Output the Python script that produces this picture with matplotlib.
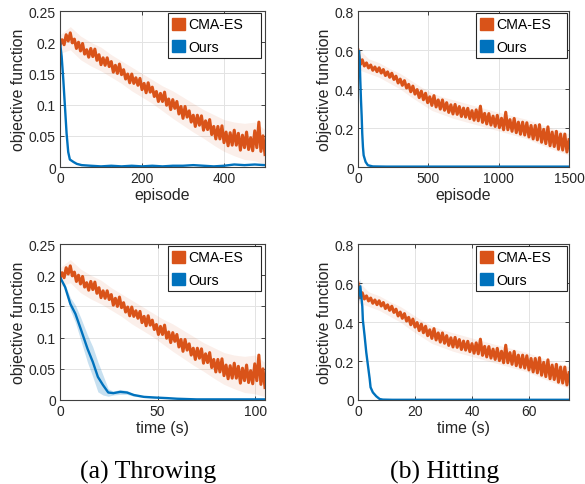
import numpy as np
import matplotlib
matplotlib.use('Agg')
import matplotlib.pyplot as plt
import matplotlib.patches as mpatches
from matplotlib.ticker import FuncFormatter

plt.rcParams['font.family'] = ['Liberation Sans', 'DejaVu Sans']

# colours (matlab defaults)
c_cma = '#D95319'
c_ours = '#0072BD'

# ---- Throwing: CMA-ES objective, 101 samples over 500 episodes (same run vs time 0..105 s)
throw_cma = [0.195, 0.204, 0.196, 0.212, 0.202, 0.215, 0.199, 0.205, 0.190, 0.200,
             0.186, 0.198, 0.181, 0.188, 0.176, 0.190, 0.177, 0.189, 0.171, 0.180,
             0.164, 0.175, 0.163, 0.175, 0.161, 0.169, 0.152, 0.163, 0.150, 0.165,
             0.148, 0.156, 0.141, 0.149, 0.135, 0.149, 0.134, 0.143, 0.131, 0.142,
             0.124, 0.134, 0.119, 0.135, 0.120, 0.128, 0.113, 0.121, 0.105, 0.118,
             0.105, 0.120, 0.099, 0.109, 0.092, 0.108, 0.094, 0.105, 0.085, 0.097,
             0.078, 0.097, 0.080, 0.090, 0.072, 0.083, 0.065, 0.083, 0.067, 0.082,
             0.059, 0.074, 0.060, 0.076, 0.052, 0.065, 0.045, 0.065, 0.045, 0.066,
             0.039, 0.056, 0.034, 0.055, 0.035, 0.059, 0.035, 0.054, 0.027, 0.051,
             0.031, 0.056, 0.028, 0.047, 0.026, 0.058, 0.031, 0.072, 0.025, 0.050,
             0.020]
# shaded spread, 21 samples
throw_cma_hi = [0.212, 0.225, 0.210, 0.200, 0.192, 0.180, 0.170, 0.160, 0.150, 0.140, 0.130,
                0.122, 0.112, 0.102, 0.092, 0.084, 0.076, 0.072, 0.070, 0.072, 0.060]
throw_cma_lo = [0.182, 0.188, 0.172, 0.162, 0.154, 0.144, 0.134, 0.122, 0.112, 0.102, 0.090,
                0.078, 0.067, 0.056, 0.046, 0.035, 0.025, 0.018, 0.012, 0.010, 0.005]

# ---- Throwing: ours vs episode
throw_ours_ep = [0, 4, 8, 12, 16, 20, 24, 33, 41, 53, 75, 100, 125, 150, 175, 200, 225,
                 250, 275, 300, 325, 350, 375, 400, 425, 450, 475, 500]
throw_ours_ep_y = [0.200, 0.177, 0.140, 0.097, 0.054, 0.024, 0.012, 0.008, 0.005, 0.003,
                   0.002, 0.001, 0.002, 0.001, 0.002, 0.001, 0.002, 0.001, 0.002, 0.002,
                   0.003, 0.002, 0.001, 0.002, 0.004, 0.003, 0.004, 0.003]

# ---- Throwing: ours vs time
throw_ours_t = [0, 2.6, 5.3, 7.9, 10.6, 14.1, 16.8, 19.4, 22, 24.7, 27.3, 30.8, 34.3,
                37.8, 43, 48.4, 55, 60, 70, 80, 90, 100, 105]
throw_ours_t_y = [0.197, 0.181, 0.154, 0.138, 0.114, 0.082, 0.061, 0.037, 0.024, 0.012,
                  0.011, 0.013, 0.012, 0.008, 0.005, 0.004, 0.003, 0.002, 0.001, 0.001,
                  0.001, 0.001, 0.001]
throw_ours_t_sd = [0.0, 0.004, 0.010, 0.014, 0.018, 0.022, 0.024, 0.024, 0.016, 0.006,
                   0.003, 0.004, 0.003, 0.002, 0.001, 0.001, 0.001, 0.0, 0.0, 0.0,
                   0.0, 0.0, 0.0]

# ---- Hitting: CMA-ES objective, 101 samples over 1500 episodes (same run vs time 0..74 s)
hit_cma = [0.600, 0.525, 0.550, 0.518, 0.534, 0.508, 0.523, 0.496, 0.513, 0.489, 0.509,
           0.482, 0.500, 0.469, 0.488, 0.460, 0.481, 0.449, 0.466, 0.431, 0.451,
           0.419, 0.443, 0.405, 0.424, 0.386, 0.415, 0.374, 0.397, 0.356, 0.389,
           0.345, 0.378, 0.330, 0.360, 0.316, 0.366, 0.308, 0.344, 0.297, 0.344,
           0.291, 0.330, 0.280, 0.319, 0.272, 0.321, 0.270, 0.310, 0.259, 0.302,
           0.256, 0.301, 0.248, 0.289, 0.240, 0.293, 0.237, 0.312, 0.229, 0.275,
           0.221, 0.274, 0.215, 0.261, 0.208, 0.265, 0.202, 0.250, 0.191, 0.281,
           0.191, 0.243, 0.183, 0.249, 0.176, 0.230, 0.168, 0.230, 0.164, 0.227,
           0.154, 0.213, 0.144, 0.213, 0.139, 0.217, 0.127, 0.193, 0.120, 0.206,
           0.109, 0.179, 0.105, 0.183, 0.091, 0.169, 0.087, 0.169, 0.077, 0.140]
hit_cma_hi = [0.610, 0.555, 0.535, 0.505, 0.480, 0.445, 0.410, 0.380, 0.360, 0.345, 0.330,
              0.315, 0.300, 0.285, 0.272, 0.258, 0.244, 0.225, 0.205, 0.188, 0.170]
hit_cma_lo = [0.500, 0.480, 0.460, 0.430, 0.400, 0.360, 0.325, 0.290, 0.270, 0.250, 0.235,
              0.220, 0.205, 0.190, 0.175, 0.160, 0.145, 0.122, 0.100, 0.080, 0.060]

# ---- Hitting: ours vs episode
hit_ours_ep = [0, 7, 12, 16, 21, 26, 30, 35, 40, 54, 70, 105, 200, 400, 600, 800, 1000, 1200, 1500]
hit_ours_ep_y = [0.526, 0.595, 0.550, 0.448, 0.345, 0.260, 0.172, 0.103, 0.060, 0.026,
                 0.009, 0.003, 0.002, 0.002, 0.002, 0.002, 0.002, 0.002, 0.002]

# ---- Hitting: ours vs time
hit_ours_t = [0, 0.8, 1.5, 1.7, 2.3, 2.9, 3.5, 4.1, 4.4, 5.2, 6.4, 7.6, 8.7, 12, 20, 40, 60, 74]
hit_ours_t_y = [0.515, 0.583, 0.480, 0.410, 0.330, 0.243, 0.175, 0.107, 0.065, 0.039,
                0.019, 0.005, 0.002, 0.001, 0.001, 0.001, 0.001, 0.001]
hit_ours_t_sd = [0.02, 0.04, 0.02, 0.01, 0.01, 0.01, 0.01, 0.008, 0.006, 0.005,
                 0.003, 0.002, 0.001, 0.0, 0.0, 0.0, 0.0, 0.0]

fmt = FuncFormatter(lambda v, p: '%g' % round(v, 4))


def style(ax, xmax, ymax, xticks, yticks, xlabel, leg_x, leg_w):
    ax.set_xlim(0, xmax)
    ax.set_ylim(0, ymax)
    ax.set_xticks(xticks)
    ax.set_yticks(yticks)
    ax.xaxis.set_major_formatter(fmt)
    ax.yaxis.set_major_formatter(fmt)
    ax.grid(True, color='#e3e3e3', lw=0.7)
    ax.set_axisbelow(True)
    ax.tick_params(direction='in', length=3, width=0.6, top=True, right=True,
                   labelsize=10, colors='#262626', pad=3)
    for s in ax.spines.values():
        s.set_color('#404040')
        s.set_linewidth(0.8)
    ax.set_xlabel(xlabel, fontsize=11.4, color='#262626', labelpad=1)
    ax.set_ylabel('objective function', fontsize=11.4, color='#262626', labelpad=2)
    handles = [mpatches.Patch(facecolor=c_cma, edgecolor=c_cma, label='CMA-ES'),
               mpatches.Patch(facecolor=c_ours, edgecolor=c_ours, label='Ours')]
    leg = ax.legend(handles=handles, loc='upper left', bbox_to_anchor=(leg_x, 0, leg_w, 0.986),
                    mode='expand', fontsize=10.2, fancybox=False, framealpha=1,
                    edgecolor='#262626', handlelength=0.92, handleheight=0.92,
                    handletextpad=0.2, borderpad=0.3, labelspacing=0.6, borderaxespad=0)
    leg.get_frame().set_linewidth(0.8)


def cma_panel(ax, xmax, y, lo, hi):
    x = np.linspace(0, xmax, len(y))
    xb = np.linspace(0, xmax, len(lo))
    ax.fill_between(xb, lo, hi, color=c_cma, alpha=0.09, lw=0)
    ax.plot(x, y, color=c_cma, lw=2.2)


fig = plt.figure(figsize=(5.85, 4.85), dpi=100)
ax1 = fig.add_axes([0.1026, 0.6536, 0.3504, 0.3216])
ax2 = fig.add_axes([0.612, 0.6536, 0.3607, 0.3216])
ax3 = fig.add_axes([0.1026, 0.1732, 0.3504, 0.3216])
ax4 = fig.add_axes([0.612, 0.1732, 0.3607, 0.3216])

# (a) throwing, episodes
cma_panel(ax1, 500, throw_cma, throw_cma_lo, throw_cma_hi)
ax1.plot(throw_ours_ep, throw_ours_ep_y, color=c_ours, lw=1.7)
style(ax1, 500, 0.25, [0, 200, 400], [0, 0.05, 0.1, 0.15, 0.2, 0.25], 'episode', 0.527, 0.454)

# (b) hitting, episodes
cma_panel(ax2, 1500, hit_cma, hit_cma_lo, hit_cma_hi)
ax2.plot(hit_ours_ep, hit_ours_ep_y, color=c_ours, lw=1.7)
style(ax2, 1500, 0.8, [0, 500, 1000, 1500], [0, 0.2, 0.4, 0.6, 0.8], 'episode', 0.56, 0.43)

# (a) throwing, time
cma_panel(ax3, 105, throw_cma, throw_cma_lo, throw_cma_hi)
t = np.array(throw_ours_t)
m = np.array(throw_ours_t_y)
sd = np.array(throw_ours_t_sd)
ax3.fill_between(t, m - sd, m + sd, color=c_ours, alpha=0.22, lw=0)
ax3.plot(t, m, color=c_ours, lw=1.7)
style(ax3, 105, 0.25, [0, 50, 100], [0, 0.05, 0.1, 0.15, 0.2, 0.25], 'time (s)', 0.527, 0.454)

# (b) hitting, time
cma_panel(ax4, 74, hit_cma, hit_cma_lo, hit_cma_hi)
t = np.array(hit_ours_t)
m = np.array(hit_ours_t_y)
sd = np.array(hit_ours_t_sd)
ax4.fill_between(t, m - sd, m + sd, color=c_ours, alpha=0.22, lw=0)
ax4.plot(t, m, color=c_ours, lw=1.7)
style(ax4, 74, 0.8, [0, 20, 40, 60], [0, 0.2, 0.4, 0.6, 0.8], 'time (s)', 0.56, 0.43)

fig.text(148 / 585, 1 - 479 / 485, '(a) Throwing', ha='center', va='baseline',
         family=['Liberation Serif', 'DejaVu Serif'], fontsize=18.5)
fig.text(445 / 585, 1 - 479 / 485, '(b) Hitting', ha='center', va='baseline',
         family=['Liberation Serif', 'DejaVu Serif'], fontsize=18.5)

plt.savefig('out.png', dpi=100)
